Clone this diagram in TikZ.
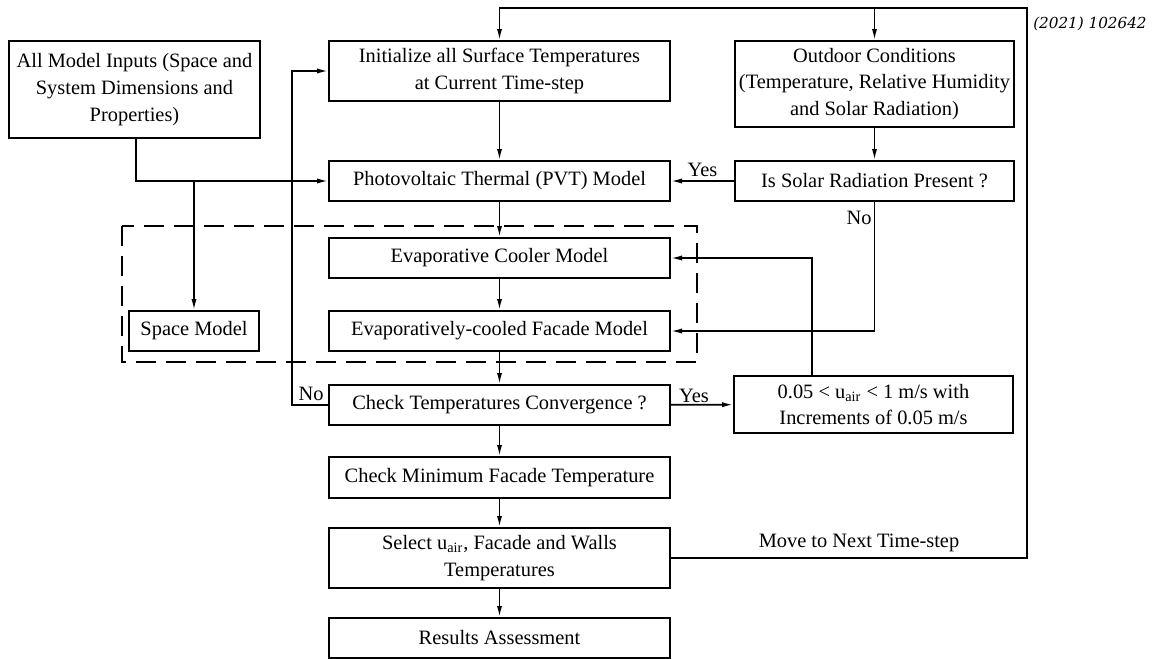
\documentclass[tikz,border=0pt]{standalone}
\usepackage{fontspec}
\setmainfont{Liberation Serif}
\newfontfamily\refont{DejaVu Serif}
\usetikzlibrary{arrows.meta,calc}
\begin{document}
\begin{tikzpicture}[x=0.5pt,y=-0.5pt,
  box/.style={draw,line width=1pt,align=center,inner sep=0pt,font=\fontsize{10.2}{13.4}\selectfont},
  arr/.style={line width=0.8pt,-{Latex[length=5.5pt,width=2.6pt]}},
  ln/.style={line width=0.8pt},
  lbl/.style={font=\fontsize{10.2}{11}\selectfont,inner sep=0pt}]
\useasboundingbox (0,0) rectangle (1153,659);
% dashed group
\draw[line width=0.8pt,dash pattern=on 10pt off 5pt] (122,226) rectangle (697,362);
% nodes
\node[box,minimum width=125.5pt,minimum height=48.5pt] (inputs) at (134.5,89.5) {All Model Inputs (Space and\\System Dimensions and\\Properties)};
\node[box,minimum width=170.5pt,minimum height=30pt] (init) at (499.5,71) {Initialize all Surface Temperatures\\at Current Time-step};
\node[box,minimum width=139.5pt,minimum height=43pt] (outdoor) at (874.5,84) {Outdoor Conditions\\(Temperature, Relative Humidity\\and Solar Radiation)};
\node[box,minimum width=170.5pt,minimum height=20pt] (pvt) at (499.5,181) {Photovoltaic Thermal (PVT) Model};
\node[box,minimum width=139.5pt,minimum height=20pt] (solar) at (874.5,181) {Is Solar Radiation Present ?};
\node[box,minimum width=170.5pt,minimum height=20pt] (evap) at (499.5,258) {Evaporative Cooler Model};
\node[box,minimum width=170.5pt,minimum height=20pt] (facade) at (499.5,331) {Evaporatively-cooled Facade Model};
\node[box,minimum width=65pt,minimum height=20pt] (space) at (194,331) {Space Model};
\node[box,minimum width=170.5pt,minimum height=20pt] (conv) at (499.5,405) {Check Temperatures Convergence ?};
\node[box,minimum width=139.5pt,minimum height=28.5pt] (vel) at (873.5,404.5) {0.05 < u\textsubscript{air} < 1 m/s with\\Increments of 0.05 m/s};
\node[box,minimum width=170.5pt,minimum height=20.5pt] (mint) at (499.5,477.5) {Check Minimum Facade Temperature};
\node[box,minimum width=170.5pt,minimum height=30pt] (select) at (499.5,558) {Select u\textsubscript{air}, Facade and Walls\\Temperatures};
\node[box,minimum width=170.5pt,minimum height=20pt] (results) at (499.5,638) {Results Assessment};
\coordinate (top) at (1027,8);
\coordinate (branch) at (194,181);
% connectors
\draw[arr] (init) -- (pvt);
\draw[arr] (outdoor) -- (solar);
\draw[arr] (solar) -- node[lbl,above=2pt]{Yes} (pvt);
\draw[arr] ([xshift=0.75pt]inputs.south) |- (pvt.west);
\draw[arr] (branch) -- (space);
\draw[arr] (pvt) -- (evap);
\draw[arr] (evap) -- (facade);
\draw[arr] (facade) -- (conv);
\draw[arr] (solar.south) |- (facade.east);
\node[lbl,anchor=east] (nolbl1) at (872,218) {No};
\draw[arr] ([xshift=-30.75pt]vel.north) |- (evap.east);
\draw[arr] (conv) -- (vel);
\node[lbl] (yes2) at (694,396) {Yes};
\draw[arr] (conv.west) -- ++(-36,0) |- (init.west);
\node[lbl] (no2) at (311,394) {No};
\draw[arr] (conv) -- (mint);
\draw[arr] (mint) -- (select);
\draw[arr] (select) -- (results);
\draw[arr] (select.east) -| (top) -| (init.north);
\draw[arr] (outdoor.north |- top) -- (outdoor.north);
\node[lbl] (move) at (859,543) {Move to Next Time-step};
\node[inner sep=0pt,font=\refont\itshape\fontsize{7.6}{9}\selectfont] (ref) at (1090,24) {(2021) 102642};
\end{tikzpicture}
\end{document}
